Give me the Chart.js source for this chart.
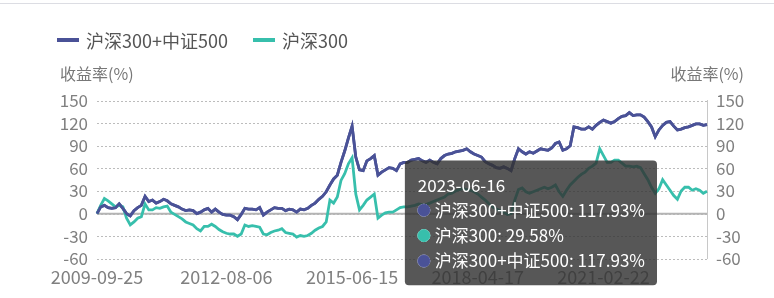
<!DOCTYPE html>
<html>
<head>
<meta charset="utf-8">
<script src="https://cdn.jsdelivr.net/npm/chart.js"></script>
<style>
  body { margin: 0; background: #fff; font-family: "Noto Sans CJK SC", "Noto Sans", sans-serif; }
  #wrap { position: relative; width: 774px; height: 298px; overflow: hidden; }
  #topline { position: absolute; left: 0; top: 3px; width: 774px; height: 1px; background: #dcdde3; }
  #legend { position: absolute; left: 57px; top: 27px; display: flex; align-items: center; font-size: 18px; line-height: 26px; color: #555; }
  .item { display: flex; align-items: center; margin-right: 25px; }
  .mark { width: 22px; height: 4px; margin-right: 7px; }
  .ytitle { position: absolute; top: 63px; font-size: 16px; line-height: 20px; color: #777; }
  canvas { position: absolute; left: 0; top: 0; }
</style>
</head>
<body>
<div id="wrap">
  <div id="topline"></div>
  <canvas id="c" width="774" height="298"></canvas>
  <div id="legend"></div>
  <div class="ytitle" style="left:60px">收益率(%)</div>
  <div class="ytitle" style="right:30px">收益率(%)</div>
</div>
<script>
const dates = [
  '2009-09-25','2009-10-26','2009-11-24','2009-12-23',
  '2010-01-22','2010-02-23','2010-03-24','2010-04-23','2010-05-24','2010-06-23','2010-07-22','2010-08-20','2010-09-20','2010-10-22','2010-11-22','2010-12-21',
  '2011-01-20','2011-02-21','2011-03-22','2011-04-21','2011-05-20','2011-06-20','2011-07-19','2011-08-18','2011-09-16','2011-10-19','2011-11-17','2011-12-16',
  '2012-01-17','2012-02-16','2012-03-16','2012-04-17','2012-05-16','2012-06-15','2012-07-16','2012-08-06','2012-09-05','2012-10-10','2012-11-06','2012-12-05',
  '2013-01-07','2013-02-05','2013-03-07','2013-04-08','2013-05-07','2013-06-05','2013-07-04','2013-08-05','2013-09-03','2013-10-08','2013-11-06','2013-12-05',
  '2014-01-06','2014-02-10','2014-03-07','2014-04-08','2014-05-08','2014-06-06','2014-07-07','2014-08-05','2014-09-03','2014-10-09','2014-11-06','2014-12-05',
  '2015-01-07','2015-02-05','2015-03-09','2015-04-09','2015-05-11','2015-06-15','2015-07-14','2015-08-13','2015-09-14','2015-10-19','2015-11-16','2015-12-15',
  '2016-01-15','2016-02-22','2016-03-16','2016-04-15','2016-05-16','2016-06-15','2016-07-15','2016-08-15','2016-09-14','2016-10-17','2016-11-15','2016-12-15',
  '2017-01-16','2017-02-16','2017-03-16','2017-04-17','2017-05-16','2017-06-16','2017-07-17','2017-08-16','2017-09-15','2017-10-17','2017-11-16','2017-12-15',
  '2018-01-16','2018-02-13','2018-03-16','2018-04-17','2018-05-17','2018-06-19','2018-07-18','2018-08-17','2018-09-17','2018-10-18','2018-11-16','2018-12-17',
  '2019-01-17','2019-02-22','2019-03-21','2019-04-19','2019-05-21','2019-06-20','2019-07-19','2019-08-20','2019-09-19','2019-10-21','2019-11-19','2019-12-19',
  '2020-01-20','2020-02-21','2020-03-20','2020-04-21','2020-05-21','2020-06-19','2020-07-20','2020-08-19','2020-09-18','2020-10-21','2020-11-19','2020-12-21',
  '2021-01-21','2021-02-22','2021-03-23','2021-04-22','2021-05-21','2021-06-22','2021-07-21','2021-08-20','2021-09-22','2021-10-25','2021-11-22','2021-12-22',
  '2022-01-21','2022-02-22','2022-03-22','2022-04-21','2022-05-23','2022-06-22','2022-07-21','2022-08-19','2022-09-21','2022-10-24','2022-11-21','2022-12-20',
  '2023-01-19','2023-02-20','2023-03-20','2023-04-19','2023-05-19','2023-06-16'
];
const tickLabels = ['2009-09-25', '2012-08-06', '2015-06-15', '2018-04-17', '2021-02-22'];

// 沪深300+中证500 收益率(%)
const combo = [
  0, 9, 11, 8, 7, 8, 13, 7, 0, -3, 4, 8, 11, 23, 16, 18, 14, 16, 19, 17,
  13, 11, 9, 6, 4, 5, 4, 0, 2, 5, 7, 2, 6, 2, -1, -2, -2, -4, -8, -1,
  7, 6, 6, 5, 8, -2, 2, 5, 8, 7, 7, 4, 6, 5, 2, 6, 5, 7, 11, 14,
  19, 23, 29, 38, 46, 51, 68, 83, 100, 116, 75, 58, 57, 70, 73, 77, 51, 55, 58, 61,
  60, 57, 66, 68, 68, 71, 72, 73, 70, 68, 71, 68, 66, 73, 77, 79, 80, 82, 83, 84,
  86, 82, 79, 77, 75, 69, 66, 64, 61, 60, 62, 60, 57, 73, 86, 82, 79, 82, 80, 83,
  86, 85, 84, 87, 93, 95, 84, 86, 90, 115, 114, 112, 112, 115, 112, 117, 121, 124, 122, 120,
  122, 126, 129, 130, 134, 130, 131, 131, 128, 122, 115, 102, 111, 117, 121, 122, 116, 111, 112, 114,
  115, 117, 119, 119, 117, 117.93
];

// 沪深300 收益率(%)
const hs300 = [
  0, 11, 20, 17, 13, 9, 11, 9, -6, -15, -11, -6, -4, 13, 5, 5, 8, 7, 9, 10,
  2, -1, -4, -7, -11, -13, -15, -20, -23, -17, -17, -14, -17, -21, -24, -26, -27, -27, -30, -27,
  -15, -17, -16, -17, -18, -27, -28, -25, -23, -22, -20, -25, -26, -27, -31, -29, -30, -29, -26, -22,
  -19, -17, -11, 18, 14, 22, 44, 53, 66, 74, 26, 5, 11, 18, 22, 26, -6, -2, 1, 2,
  2, 5, 8, 9, 9, 10, 11, 13, 12, 12, 14, 16, 18, 20, 22, 26, 27, 30, 32, 33,
  32, 31, 29, 26, 22, 18, 13, 9, 6, 4, 2, -1, 0, 18, 32, 34, 29, 27, 29, 31,
  33, 35, 33, 35, 38, 29, 23, 31, 38, 43, 48, 52, 55, 60, 63, 67, 86, 77, 68, 68,
  71, 71, 67, 63, 63, 62, 63, 61, 53, 45, 35, 27, 33, 45, 38, 31, 24, 19, 30, 35,
  35, 31, 33, 31, 27, 29.58
];

const seriesNames = ['沪深300+中证500', '沪深300'];
const colors = ['#4a5297', '#37bfac'];

Chart.defaults.font.family = '"Noto Sans CJK SC", "Noto Sans", sans-serif';

// dotted grid at every y tick plus the gray baseline at 0, under the lines
const gridLines = {
  id: 'gridLines',
  beforeDatasetsDraw(chart) {
    const { ctx, chartArea, scales } = chart;
    ctx.save();
    ctx.lineWidth = 1;
    ctx.strokeStyle = '#bcbcbc';
    ctx.setLineDash([2, 2]);
    scales.y.ticks.forEach((t) => {
      const y = Math.round(scales.y.getPixelForValue(t.value)) + 0.5;
      ctx.beginPath();
      ctx.moveTo(chartArea.left, y);
      ctx.lineTo(chartArea.right, y);
      ctx.stroke();
    });
    ctx.setLineDash([]);
    const y0 = scales.y.getPixelForValue(0);
    ctx.strokeStyle = '#b4b4b4';
    ctx.lineWidth = 2;
    ctx.beginPath();
    ctx.moveTo(chartArea.left, y0);
    ctx.lineTo(chartArea.right, y0);
    ctx.stroke();
    ctx.restore();
  }
};

Chart.Tooltip.positioners.leftOfPoint = function (items) {
  if (!items.length) return false;
  const area = this.chart.chartArea;
  return { x: items[0].element.x - 50, y: area.bottom - 36 };
};

const chart = new Chart(document.getElementById('c'), {
  type: 'line',
  data: {
    labels: dates,
    datasets: [
      { label: seriesNames[0], data: combo, borderColor: colors[0], backgroundColor: colors[0] },
      { label: seriesNames[1], data: hs300, borderColor: colors[1], backgroundColor: colors[1] },
      { label: seriesNames[0], data: combo, borderColor: colors[0], backgroundColor: colors[0] }
    ]
  },
  options: {
    responsive: false,
    animation: false,
    events: [],
    layout: { padding: { left: 0, right: 0, top: 100.5, bottom: 3.5 } },
    elements: {
      line: { borderWidth: 2.8, tension: 0 },
      point: { radius: 0, hoverRadius: 0 }
    },
    plugins: {
      legend: { display: false },
      tooltip: {
        position: 'leftOfPoint',
        xAlign: 'right',
        yAlign: 'center',
        caretSize: 0,
        caretPadding: 0,
        backgroundColor: 'rgba(50,50,50,0.82)',
        cornerRadius: 4,
        padding: { top: 15, bottom: 14, left: 13, right: 12 },
        titleFont: { size: 17, weight: 'normal' },
        titleColor: '#fff',
        titleMarginBottom: 4,
        bodyFont: { size: 17 },
        bodyColor: '#fff',
        bodySpacing: 5,
        usePointStyle: true,
        boxWidth: 12,
        boxHeight: 12,
        boxPadding: 3,
        callbacks: {
          label: (c) => c.dataset.label + ': ' + c.parsed.y.toFixed(2) + '%',
          labelColor: (c) => ({ borderColor: c.dataset.borderColor, backgroundColor: c.dataset.borderColor, borderWidth: 0 }),
          labelPointStyle: () => ({ pointStyle: 'circle', rotation: 0 })
        }
      }
    },
    scales: {
      x: {
        grid: { display: false, drawTicks: false },
        border: { display: false },
        ticks: {
          autoSkip: false,
          maxRotation: 0,
          minRotation: 0,
          padding: 7,
          color: '#808080',
          font: { size: 18 },
          callback: (v, i) => (tickLabels.includes(dates[i]) ? dates[i] : '')
        }
      },
      y: {
        min: -60,
        max: 150,
        afterFit: (s) => { s.width = 97; },
        ticks: { stepSize: 30, autoSkip: false, padding: 9, color: '#808080', font: { size: 17 } },
        grid: { display: false, drawTicks: false },
        border: { display: false }
      },
      y2: {
        position: 'right',
        min: -60,
        max: 150,
        afterFit: (s) => { s.width = 67; },
        ticks: { stepSize: 30, autoSkip: false, padding: 9, color: '#808080', font: { size: 17 } },
        grid: { drawOnChartArea: false, drawTicks: false },
        border: { display: true, color: '#c8c8c8', width: 1 }
      }
    }
  },
  plugins: [gridLines]
});

chart.tooltip.setActiveElements(
  [0, 1, 2].map((d) => ({ datasetIndex: d, index: dates.length - 1 })),
  { x: 0, y: 0 }
);
chart.update();

// legend from the first two datasets
const legend = document.getElementById('legend');
chart.data.datasets.slice(0, 2).forEach((ds) => {
  const item = document.createElement('div');
  item.className = 'item';
  item.innerHTML = '<span class="mark" style="background:' + ds.borderColor + '"></span><span>' + ds.label + '</span>';
  legend.appendChild(item);
});
</script>
</body>
</html>
